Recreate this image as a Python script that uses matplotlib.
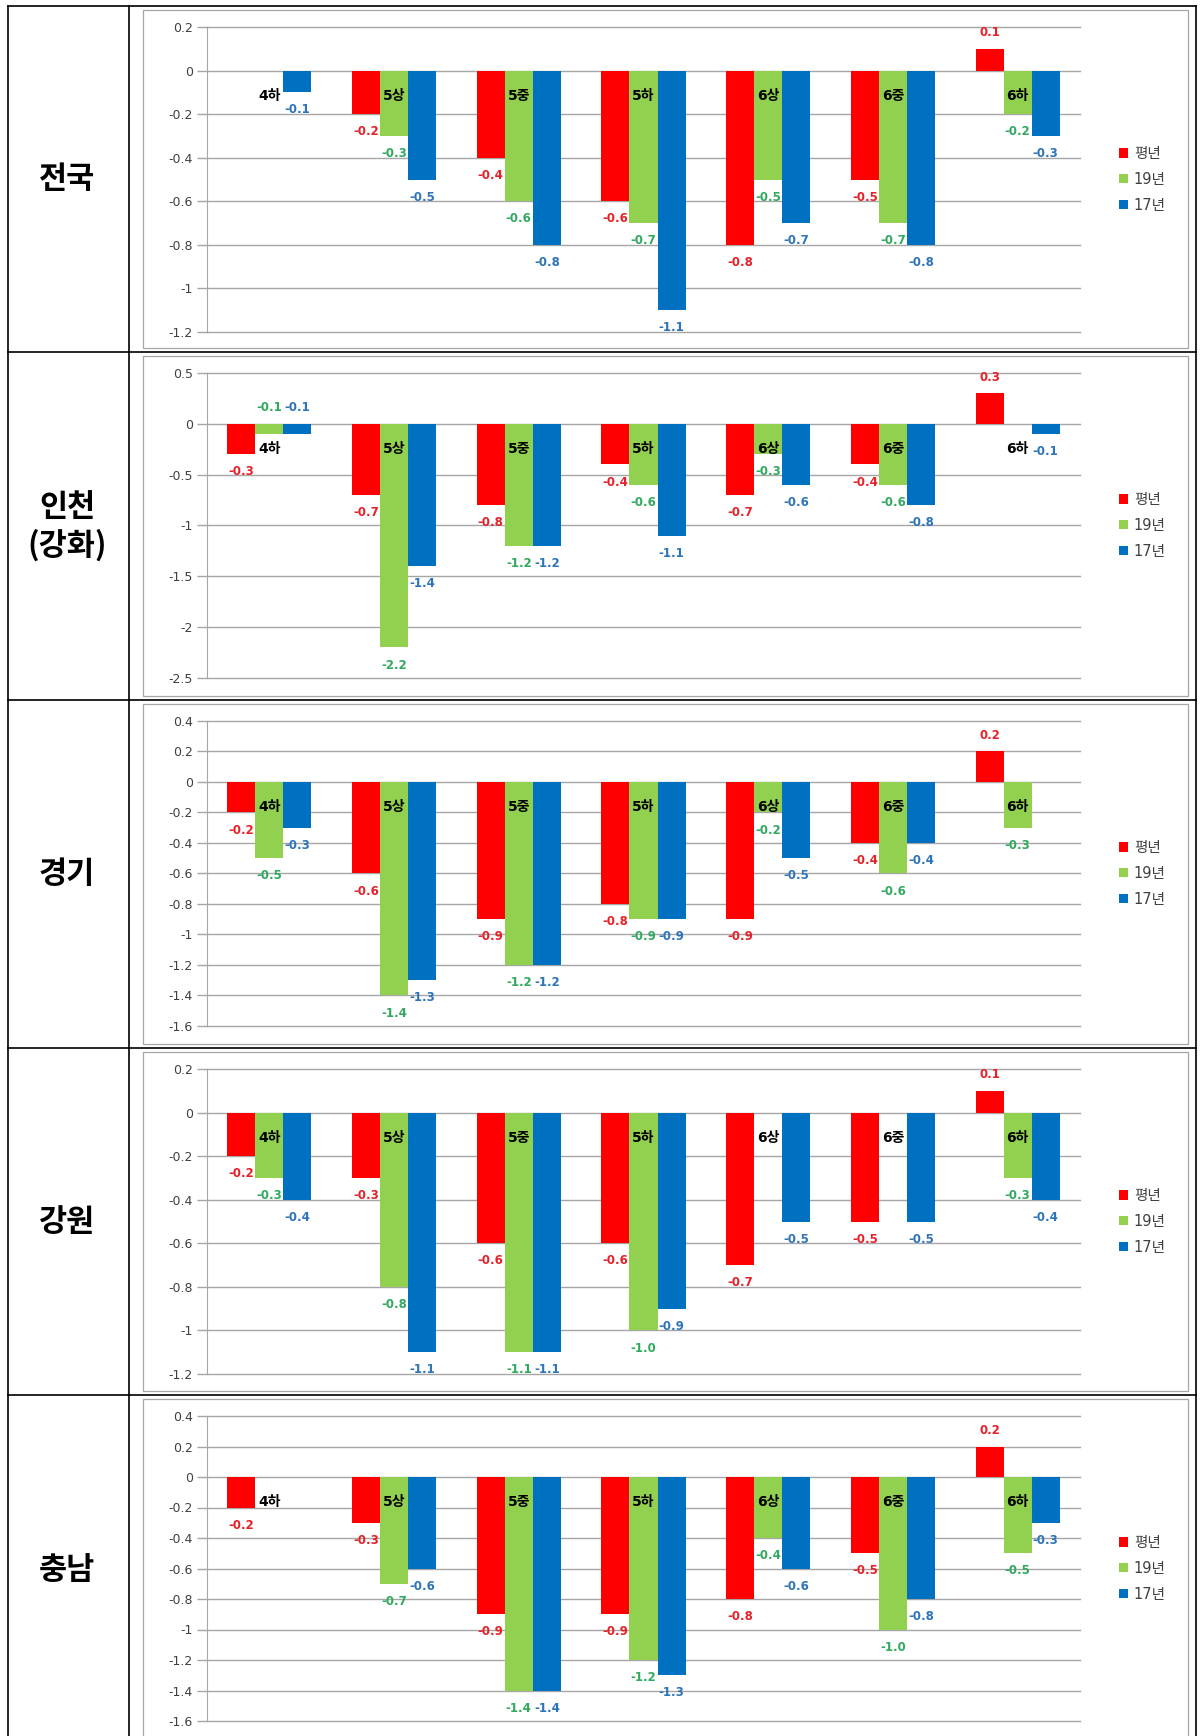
import numpy as np
import matplotlib.pyplot as plt
from matplotlib.patches import Rectangle, Patch
from matplotlib.ticker import FuncFormatter, MultipleLocator

plt.rcParams['font.family'] = ['DejaVu Sans', 'Noto Sans CJK KR']

nan = np.nan

categories = ['4하', '5상', '5중', '5하', '6상', '6중', '6하']
series_names = ['평년', '19년', '17년']
bar_colors = ['#ff0000', '#92d050', '#0070c0']
label_colors = ['#e52229', '#31a95f', '#2e74b8']

regions = ['전국', '인천\n(강화)', '경기', '강원', '충남']

jeonguk_normal = [nan, -0.2, -0.4, -0.6, -0.8, -0.5, 0.1]
jeonguk_2019 = [nan, -0.3, -0.6, -0.7, -0.5, -0.7, -0.2]
jeonguk_2017 = [-0.1, -0.5, -0.8, -1.1, -0.7, -0.8, -0.3]

incheon_normal = [-0.3, -0.7, -0.8, -0.4, -0.7, -0.4, 0.3]
incheon_2019 = [-0.1, -2.2, -1.2, -0.6, -0.3, -0.6, nan]
incheon_2017 = [-0.1, -1.4, -1.2, -1.1, -0.6, -0.8, -0.1]

gyeonggi_normal = [-0.2, -0.6, -0.9, -0.8, -0.9, -0.4, 0.2]
gyeonggi_2019 = [-0.5, -1.4, -1.2, -0.9, -0.2, -0.6, -0.3]
gyeonggi_2017 = [-0.3, -1.3, -1.2, -0.9, -0.5, -0.4, nan]

gangwon_normal = [-0.2, -0.3, -0.6, -0.6, -0.7, -0.5, 0.1]
gangwon_2019 = [-0.3, -0.8, -1.1, -1.0, nan, nan, -0.3]
gangwon_2017 = [-0.4, -1.1, -1.1, -0.9, -0.5, -0.5, -0.4]

chungnam_normal = [-0.2, -0.3, -0.9, -0.9, -0.8, -0.5, 0.2]
chungnam_2019 = [nan, -0.7, -1.4, -1.2, -0.4, -1.0, -0.5]
chungnam_2017 = [nan, -0.6, -1.4, -1.3, -0.6, -0.8, -0.3]

panel_series = [
    (jeonguk_normal, jeonguk_2019, jeonguk_2017),
    (incheon_normal, incheon_2019, incheon_2017),
    (gyeonggi_normal, gyeonggi_2019, gyeonggi_2017),
    (gangwon_normal, gangwon_2019, gangwon_2017),
    (chungnam_normal, chungnam_2019, chungnam_2017),
]
# (ymin, ymax, tick step) per panel
y_ranges = [(-1.2, 0.2, 0.2), (-2.5, 0.5, 0.5), (-1.6, 0.4, 0.2), (-1.2, 0.2, 0.2), (-1.6, 0.4, 0.2)]
# labels that Excel put above the zero line (panel, series, category)
labels_above = {(1, 1, 0), (1, 2, 0)}

W, H = 1200, 1736
fig = plt.figure(figsize=(W / 100, H / 100), dpi=100)

# background table drawn in pixel coordinates
bg = fig.add_axes([0, 0, 1, 1], zorder=-1)
bg.set_xlim(0, W)
bg.set_ylim(H, 0)
bg.axis('off')

row_tops = [6, 352, 700, 1048, 1395]
row_bottoms = [352, 700, 1048, 1395, 1745]

for top, bottom, name in zip(row_tops, row_bottoms, regions):
    bg.add_patch(Rectangle((143, top + 4), 1188 - 143, bottom - top - 8,
                           facecolor='white', edgecolor='#a6a6a6', lw=0.9))
    bg.text(67, (top + bottom) / 2, name, ha='center', va='center', fontsize=22,
            fontweight='bold', family=['Noto Sans CJK KR'], linespacing=1.25)

line_kw = dict(color='black', lw=1.2)
bg.plot([8, 8], [6, H], **line_kw)
bg.plot([1196, 1196], [6, H], **line_kw)
bg.plot([129, 129], [6, H], **line_kw)
for y in row_tops:
    bg.plot([8, 1196], [y, y], **line_kw)

width = 0.225
x = np.arange(len(categories))

for p, (series, (ymin, ymax, step), top) in enumerate(zip(panel_series, y_ranges, row_tops)):
    ax = fig.add_axes([207 / W, 1 - (top + 21 + 305) / H, (1080 - 207) / W, 305 / H])
    ax.set_axisbelow(True)
    for s, (vals, col, lcol) in enumerate(zip(series, bar_colors, label_colors)):
        vals = np.array(vals, dtype=float)
        xs = x + (s - 1) * width
        ax.bar(xs, vals, width, color=col, label=series_names[s], zorder=2)
        for i, v in enumerate(vals):
            if np.isnan(v):
                continue
            if (p, s, i) in labels_above or v > 0:
                ax.annotate(f'{v:.1f}', xy=(xs[i], max(v, 0)), xytext=(0, 7),
                            textcoords='offset points', ha='center', va='bottom',
                            fontsize=8.5, fontweight='bold', color=lcol, zorder=4)
            else:
                ax.annotate(f'{v:.1f}', xy=(xs[i], v), xytext=(0, -8),
                            textcoords='offset points', ha='center', va='top',
                            fontsize=8.5, fontweight='bold', color=lcol, zorder=4)
    for i, cat in enumerate(categories):
        ax.annotate(cat, xy=(x[i], 0), xytext=(0, -18), textcoords='offset points',
                    ha='center', va='center', fontsize=10, fontweight='bold',
                    color='black', zorder=5)

    ax.set_xlim(-0.5, len(categories) - 0.5)
    ax.set_ylim(ymin, ymax)
    ax.yaxis.set_major_locator(MultipleLocator(step))
    ax.yaxis.set_major_formatter(FuncFormatter(lambda v, pos: f'{round(v, 2) + 0:g}'))
    ax.yaxis.grid(True, color='#a6a6a6', lw=1)
    for gl in ax.get_ygridlines():
        gl.set_clip_on(False)
    ax.tick_params(axis='y', direction='out', length=7, width=1, color='#a6a6a6',
                   labelsize=9, labelcolor='#404040', pad=3)
    ax.tick_params(axis='x', bottom=False, labelbottom=False)
    for side in ['top', 'right', 'bottom']:
        ax.spines[side].set_visible(False)
    ax.spines['left'].set_color('#a6a6a6')
    ax.patch.set_alpha(0)

    handles = [Patch(facecolor=c, edgecolor='none') for c in bar_colors]
    leg = ax.legend(handles, series_names, loc='center left', bbox_to_anchor=(1.03, 0.5),
                    frameon=False, fontsize=10.5, handlelength=0.6, handleheight=0.6,
                    handletextpad=0.4, labelspacing=0.75)
    for t in leg.get_texts():
        t.set_color('#404040')

fig.savefig('out.png', dpi=100)
